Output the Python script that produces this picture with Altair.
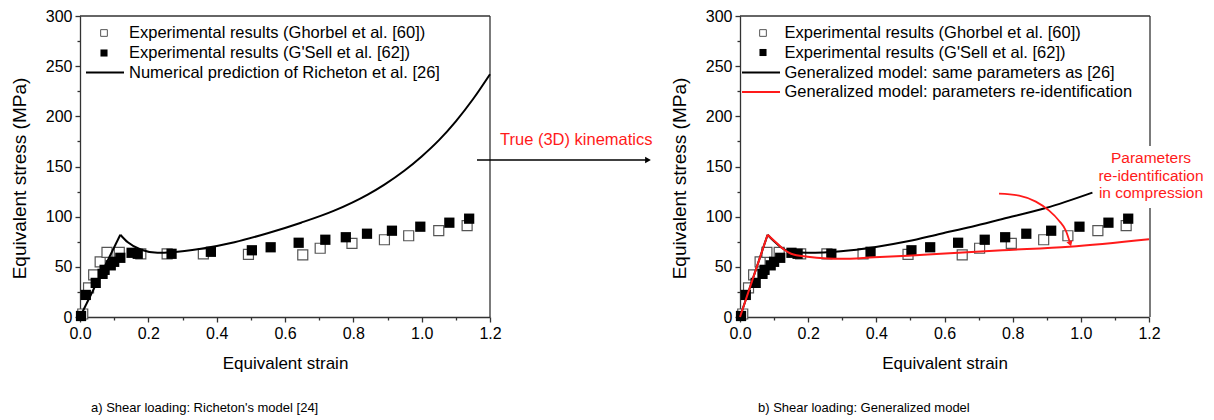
import altair as alt
import pandas as pd

FONT = "Liberation Sans"
RED = "#ff1a1a"

# ---------------- data ----------------
ghorbel_strain = [0.008, 0.025, 0.040, 0.059, 0.079, 0.115, 0.178, 0.255, 0.361, 0.493,
                  0.652, 0.703, 0.796, 0.891, 0.962, 1.050, 1.133]
ghorbel_stress = [3, 29, 42, 55, 64.5, 64.5, 63, 63, 63, 62.5,
                  62, 68.5, 73.4, 77, 81, 86, 91]

gsell_strain = [0.003, 0.017, 0.046, 0.066, 0.072, 0.090, 0.100, 0.118, 0.151, 0.169,
                0.268, 0.383, 0.503, 0.558, 0.640, 0.718, 0.778, 0.840, 0.913, 0.996,
                1.081, 1.139]
gsell_stress = [1, 22, 34, 43, 47, 51.5, 55, 59, 64, 63,
                63, 65, 66.5, 69.5, 74, 77, 79.5, 83, 86, 90,
                94, 98]

# model curves: first point = origin, second point = yield peak
richeton_strain = [0.0, 0.118, 0.14, 0.179, 0.227, 0.268, 0.354, 0.452, 0.549, 0.647,
                   0.744, 0.842, 0.891, 0.95, 1.0, 1.05, 1.1, 1.15, 1.2]
richeton_stress = [0, 82, 74.4, 67, 64, 64.5, 68, 74.5, 83.5, 94,
                   106, 122, 132, 146, 160, 176, 195, 217, 242]

gen_same_strain = [0.0, 0.081, 0.10, 0.12, 0.15, 0.198, 0.296, 0.394, 0.492, 0.589,
                   0.68, 0.77, 0.897, 1.034]
gen_same_stress = [0, 82, 75.4, 69.5, 65, 64, 65.5, 69.5, 75.4, 83,
                   90, 97.7, 108.6, 124]

gen_reid_strain = [0.0, 0.081, 0.11, 0.13, 0.15, 0.198, 0.257, 0.296, 0.394, 0.492,
                   0.589, 0.77, 0.966, 1.2]
gen_reid_stress = [0, 82, 73, 67, 63, 60, 58.3, 58, 59.5, 61,
                   63, 66.5, 70, 77.5]

arrow_strain = [0.760, 0.819, 0.868, 0.907, 0.936, 0.956, 0.969]
arrow_stress = [123, 121, 115, 106, 96, 86, 73]

x_ticks = [0.0, 0.1, 0.2, 0.3, 0.4, 0.5, 0.6, 0.7, 0.8, 0.9, 1.0, 1.1, 1.2]
y_ticks = [0, 25, 50, 75, 100, 125, 150, 175, 200, 225, 250, 275, 300]

legend_left = ["Experimental results (Ghorbel et al. [60])",
               "Experimental results (G'Sell et al. [62])",
               "Numerical prediction of Richeton et al. [26]"]
legend_right = ["Experimental results (Ghorbel et al. [60])",
                "Experimental results (G'Sell et al. [62])",
                "Generalized model: same parameters as [26]",
                "Generalized model: parameters re-identification"]
caption_left = "a) Shear loading: Richeton's model [24]"
caption_right = "b) Shear loading: Generalized model"
kinematics_label = "True (3D) kinematics"
reid_note = ["Parameters", "re-identification", "in compression"]

# ---------------- frames ----------------
ghorbel = pd.DataFrame({"strain": ghorbel_strain, "stress": ghorbel_stress})
gsell = pd.DataFrame({"strain": gsell_strain, "stress": gsell_stress})
arrow = pd.DataFrame({"strain": arrow_strain, "stress": arrow_stress})


def curve_frame(xs, ys):
    # elastic branch (origin -> peak) and post-yield branch (peak -> end)
    rise = pd.DataFrame({"strain": xs[:2], "stress": ys[:2], "seg": 0})
    post = pd.DataFrame({"strain": xs[1:], "stress": ys[1:], "seg": 1})
    return pd.concat([rise, post], ignore_index=True)


richeton = curve_frame(richeton_strain, richeton_stress)
gen_same = curve_frame(gen_same_strain, gen_same_stress)
gen_reid = curve_frame(gen_reid_strain, gen_reid_stress)

W, H = 410, 301

MAJOR_X = "abs(datum.value*5 - round(datum.value*5)) < 0.001"
MAJOR_Y = "datum.value % 50 === 0"


def xenc():
    return alt.X("strain:Q", scale=alt.Scale(domain=[0, 1.2], nice=False, zero=False),
                 axis=alt.Axis(values=x_ticks, format=".1f", title="Equivalent strain",
                               labelExpr=f"{MAJOR_X} ? datum.label : ''",
                               tickSize={"condition": {"test": MAJOR_X, "value": 5}, "value": 3},
                               labelPadding=3, titlePadding=14, labelFlush=False))


def yenc():
    return alt.Y("stress:Q", scale=alt.Scale(domain=[0, 300], nice=False, zero=False),
                 axis=alt.Axis(values=y_ticks, title="Equivalent stress (MPa)",
                               labelExpr=f"{MAJOR_Y} ? datum.label : ''",
                               tickSize={"condition": {"test": MAJOR_Y, "value": 5}, "value": 3},
                               labelPadding=3, titlePadding=16, titleFontSize=19,
                               titleY=162))


def one(label):
    return pd.DataFrame({"t": [label]})


def text(label, x, y, size=16.5, color="black", align="left"):
    return alt.Chart(one(label)).mark_text(
        font=FONT, fontSize=size, color=color, align=align, baseline="middle"
    ).encode(text="t:N", x=alt.value(x), y=alt.value(y))


def border():
    top = alt.Chart(one("")).mark_rule(color="#333", strokeWidth=1.3).encode(
        x=alt.value(0), x2=alt.value(W), y=alt.value(0))
    right = alt.Chart(one("")).mark_rule(color="#333", strokeWidth=1.3).encode(
        x=alt.value(W), y=alt.value(0), y2=alt.value(H))
    return [top, right]


def data_layers(curves):
    open_sq = alt.Chart(ghorbel).mark_square(size=100, fill="white", stroke="#555",
                                             strokeWidth=1.2, opacity=1).encode(x=xenc(), y=yenc())
    filled_sq = alt.Chart(gsell).mark_square(size=105, color="black", opacity=1).encode(
        x=xenc(), y=yenc())
    lines = [alt.Chart(df).mark_line(color=c, strokeWidth=2, interpolate="monotone").encode(
        x=xenc(), y=yenc(), detail="seg:N") for df, c in curves]
    return [open_sq, filled_sq] + lines


def legend(labels, rows_y, sym_x, text_x, line_x0, line_x1, line_colors):
    layers = []
    open_sym = alt.Chart(one("")).mark_square(size=45, fill="white", stroke="#555",
                                              strokeWidth=1, opacity=1).encode(
        x=alt.value(sym_x), y=alt.value(rows_y[0]))
    filled_sym = alt.Chart(one("")).mark_square(size=50, color="black", opacity=1).encode(
        x=alt.value(sym_x), y=alt.value(rows_y[1]))
    layers += [open_sym, filled_sym]
    for i, c in enumerate(line_colors):
        layers.append(alt.Chart(one("")).mark_rule(color=c, strokeWidth=2).encode(
            x=alt.value(line_x0), x2=alt.value(line_x1), y=alt.value(rows_y[2 + i])))
    for lab, y in zip(labels, rows_y):
        layers.append(text(lab, text_x, y))
    return layers


# ---------------- left panel ----------------
left_layers = border() + data_layers([(richeton, "black")])
left_layers += legend(legend_left, [17, 37, 56.5], 24, 49, 6, 44, ["black"])
left_layers += [
    alt.Chart(one("")).mark_rule(color="black", strokeWidth=1.5).encode(
        x=alt.value(397), x2=alt.value(568), y=alt.value(144)),
    alt.Chart(one("")).mark_point(shape="triangle-right", filled=True, size=45,
                                  color="black", opacity=1).encode(
        x=alt.value(568), y=alt.value(144)),
    text(kinematics_label, 420, 124, size=16.5, color=RED),
    text(caption_left, 11, 392, size=13),
]
left = alt.layer(*left_layers).properties(width=W, height=H)

# ---------------- right panel ----------------
right_layers = border()
right_layers += [alt.Chart(one("")).mark_rect(color="white").encode(
    x=alt.value(400), x2=alt.value(420), y=alt.value(130), y2=alt.value(192))]
right_layers += data_layers([(gen_same, "black"), (gen_reid, RED)])
right_layers += legend(legend_right, [17, 36.5, 56.5, 76], 23, 44.5, 2, 40, ["black", RED])
right_layers += [
    alt.Chart(arrow).mark_line(color=RED, strokeWidth=1.8, interpolate="monotone").encode(
        x=xenc(), y=yenc()),
    alt.Chart(arrow.tail(1)).mark_point(shape="triangle-down", filled=True, size=40,
                                        color=RED, opacity=1, angle=342).encode(
        x=xenc(), y=yenc()),
]
for i, line in enumerate(reid_note):
    right_layers.append(text(line, 411, 142 + 17.5 * i, size=15.5, color=RED, align="center"))
right_layers.append(text(caption_right, 18, 392, size=13))
right = alt.layer(*right_layers).properties(width=W - 1, height=H)

chart = alt.hconcat(left, right, spacing=250, bounds="flush").properties(
    padding={"left": 2, "top": 0, "right": 0, "bottom": 0}
).configure_view(stroke=None).configure_axis(
    grid=False, domainColor="#333", domainWidth=1.3, tickColor="#333", tickWidth=1.3,
    labelFont=FONT, labelFontSize=16, labelColor="black",
    titleFont=FONT, titleFontSize=17, titleFontWeight="normal", titleColor="black",
)

chart.save("out.html", embed_options={"renderer": "svg", "actions": False})
